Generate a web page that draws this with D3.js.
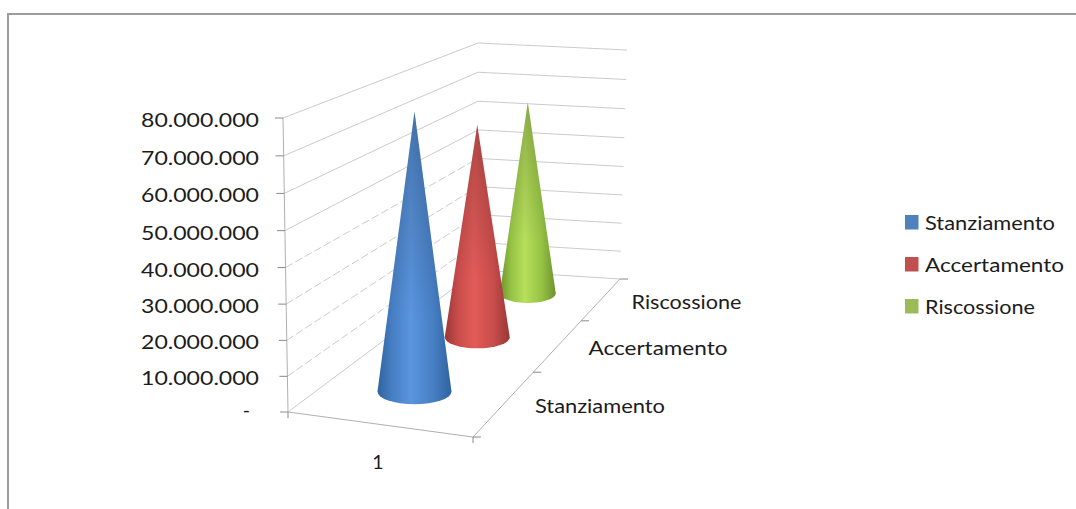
<!DOCTYPE html>
<html>
<head>
<meta charset="utf-8">
<script src="https://cdn.jsdelivr.net/npm/d3@7"></script>
<style>
  html, body { margin: 0; padding: 0; background: #fff; }
  svg { display: block; }
  text { font-family: Lato, "Noto Sans", sans-serif; font-size: 19.5px; fill: #1c1c1c; }
</style>
</head>
<body>
<svg id="chart" width="1076" height="509"></svg>
<script>
// Budget figures for a single group, drawn as 3-D cones
const groups = ["1"];
const seriesNames = ["Stanziamento", "Accertamento", "Riscossione"];
const seriesValues = [79500000, 66500000, 65000000];
const seriesColors = ["#4f81bd", "#c0504d", "#9bbb59"];
const coneShades = [
  ["#2f639f", "#477fc4", "#5a95de"],
  ["#983836", "#c84c4b", "#e25c59"],
  ["#6d922f", "#96c244", "#b6df5c"]
];
const valueTicks = [0, 10000000, 20000000, 30000000, 40000000, 50000000, 60000000, 70000000, 80000000];

const svg = d3.select("#chart");

// Walls of the 3-D box: each vertical edge maps height fraction to pixels
const edgeFL = { x: d3.scaleLinear([0, 1], [288, 283]), y: d3.scaleLinear([0, 1], [412, 118]) };
const edgeFR = { x: d3.scaleLinear([0, 1], [473, 470]), y: d3.scaleLinear([0, 1], [437, 137]) };
const edgeBL = { x: d3.scaleLinear([0, 1], [478, 478]), y: d3.scaleLinear([0, 1], [270, 43]) };
const edgeBR = { x: d3.scaleLinear([0, 1], [620, 627]), y: d3.scaleLinear([0, 1], [279, 50]) };

// Foreshortening: nearer parts of an axis take up more of the screen
const foreshorten = (w, k) => w / (w + (1 - w) * k);
const valueScale = d3.scaleLinear([0, 80000000], [0, 1]);
const heightOf = v => foreshorten(valueScale(v), 1.035);
const depthScale = d3.scaleBand(seriesNames, [0, 1]);
const depthOf = w => foreshorten(w, 0.72);

// across: 0 left wall .. 1 right side; depth: 0 front .. 1 back
function project(across, depth, value) {
  const h = heightOf(value);
  const mix = (a, b, t) => a + (b - a) * t;
  const left = [mix(edgeFL.x(h), edgeBL.x(h), depth), mix(edgeFL.y(h), edgeBL.y(h), depth)];
  const right = [mix(edgeFR.x(h), edgeBR.x(h), depth), mix(edgeFR.y(h), edgeBR.y(h), depth)];
  return [mix(left[0], right[0], across), mix(left[1], right[1], across)];
}

const line = d3.line();
const gridColor = "#cbcbcb";
const axisColor = "#b0b0b0";

// Chart frame: only the top and left sides fall inside the window
svg.append("path")
  .attr("d", line([[8, 509], [8, 14], [1076, 14]]))
  .attr("fill", "none").attr("stroke", "#9c9c9c").attr("stroke-width", 2);

// Gridlines on the side wall and back wall
const grid = svg.append("g").attr("fill", "none").attr("stroke", gridColor).attr("stroke-width", 1);
grid.selectAll(".side").data(valueTicks).join("path")
  .attr("stroke-dasharray", d => d > 0 && d <= 40000000 ? "8 3" : null)
  .attr("d", d => line([project(0, 0, d), project(0, 1, d)]));
grid.selectAll(".back").data(valueTicks).join("path")
  .attr("d", d => line([project(0, 1, d), project(1, 1, d)]));

// Box edges
const edges = svg.append("g").attr("fill", "none").attr("stroke", axisColor).attr("stroke-width", 1);
edges.append("path").attr("d", line([project(0, 0, 80000000), project(0, 0, 0), project(1, 0, 0), project(1, 1, 0)]));

// Value axis ticks and labels
const formatValue = d3.formatLocale({ decimal: ",", thousands: ".", grouping: [3], currency: ["", ""] }).format(",d");
const tickGroup = svg.append("g");
tickGroup.selectAll("path").data(valueTicks).join("path")
  .attr("fill", "none").attr("stroke", "#8a8a8a")
  .attr("d", d => {
    const [x, y] = project(0, 0, d);
    return line([[x - 8, y], [x, y]]);
  });
tickGroup.selectAll("text").data(valueTicks).join("text")
  .attr("text-anchor", "end")
  .attr("x", d => d === 0 ? 250 : 259)
  .attr("y", d => project(0, 0, d)[1] + (d === 0 ? 5 : 9))
  .attr("textLength", d => d === 0 ? null : 118)
  .attr("lengthAdjust", "spacingAndGlyphs")
  .text(d => d === 0 ? "-" : formatValue(d));

// Depth axis ticks and labels
const depthTicks = [0, 1 / 3, 2 / 3, 1];
const depthTickGroup = svg.append("g").attr("fill", "none").attr("stroke", "#8a8a8a");
depthTickGroup.selectAll("path").data(depthTicks).join("path")
  .attr("d", d => {
    const [x, y] = project(1, depthOf(d), 0);
    return line([[x, y], [x + 8, y]]);
  });
// Small drop ticks at the two front corners of the floor
depthTickGroup.append("path").attr("d", () => {
  const [x, y] = project(1, 0, 0);
  return line([[x, y], [x, y + 6]]);
});
depthTickGroup.append("path").attr("d", () => {
  const [x, y] = project(0, 0, 0);
  return line([[x, y], [x, y + 6]]);
});

const labelWidths = { Stanziamento: 130, Accertamento: 139, Riscossione: 110 };
svg.append("g").selectAll("text").data(seriesNames).join("text")
  .attr("x", d => project(1, depthOf(depthScale(d) + depthScale.bandwidth() / 2), 0)[0] + 30)
  .attr("y", d => project(1, depthOf(depthScale(d) + depthScale.bandwidth() / 2), 0)[1] + 10)
  .attr("textLength", d => labelWidths[d])
  .attr("lengthAdjust", "spacingAndGlyphs")
  .text(d => d);

svg.append("g").selectAll("text").data(groups).join("text")
  .attr("text-anchor", "middle")
  .attr("x", 378).attr("y", 469)
  .text(d => d);

// Cones: a sideways shade for roundness and a faint darkening toward the tip
const defs = svg.append("defs");
seriesNames.forEach((name, i) => {
  const g = defs.append("linearGradient").attr("id", "cone" + i);
  const [dark, mid, light] = coneShades[i];
  [[0, dark], [0.2, mid], [0.45, light], [0.75, mid], [1, dark]].forEach(([o, c]) =>
    g.append("stop").attr("offset", o).attr("stop-color", c));
});
const tipShade = defs.append("linearGradient").attr("id", "tipShade")
  .attr("x1", 0).attr("y1", 0).attr("x2", 0).attr("y2", 1);
tipShade.append("stop").attr("offset", 0).attr("stop-color", "#000").attr("stop-opacity", 0.22);
tipShade.append("stop").attr("offset", 0.7).attr("stop-color", "#000").attr("stop-opacity", 0);

const radiusScale = d3.scaleLinear([1 / 6, 5 / 6], [37, 28]);
const acrossScale = d3.scaleLinear([1 / 6, 5 / 6], [0.485, 0.5]);
const cones = seriesNames.map((name, i) => {
  const w = depthScale(name) + depthScale.bandwidth() / 2;
  const base = project(acrossScale(w), depthOf(w), 0);
  const tip = project(acrossScale(w), depthOf(w), seriesValues[i]);
  return { i, base, tipY: tip[1], rx: radiusScale(w) };
});
const conePath = d => {
  const [cx, cy] = d.base;
  const ry = d.rx * 0.34;
  return `M${cx},${d.tipY}L${cx + d.rx},${cy}A${d.rx},${ry} 0 0 1 ${cx - d.rx},${cy}Z`;
};

const coneGroups = svg.append("g").selectAll("g").data(cones.slice().reverse()).join("g");
coneGroups.append("path").attr("fill", d => `url(#cone${d.i})`).attr("d", conePath);
coneGroups.append("path").attr("fill", "url(#tipShade)").attr("d", conePath);

// Legend
const legendRowY = d3.scalePoint(seriesNames, [222, 306]);
const legend = svg.append("g").selectAll("g").data(seriesNames).join("g")
  .attr("transform", d => `translate(905,${legendRowY(d)})`);
legend.append("rect")
  .attr("x", 0).attr("y", -7).attr("width", 13.5).attr("height", 14.5)
  .attr("fill", (d, i) => seriesColors[i]);
legend.append("text")
  .attr("x", 20).attr("y", 8)
  .attr("textLength", d => labelWidths[d])
  .attr("lengthAdjust", "spacingAndGlyphs")
  .text(d => d);
</script>
</body>
</html>
